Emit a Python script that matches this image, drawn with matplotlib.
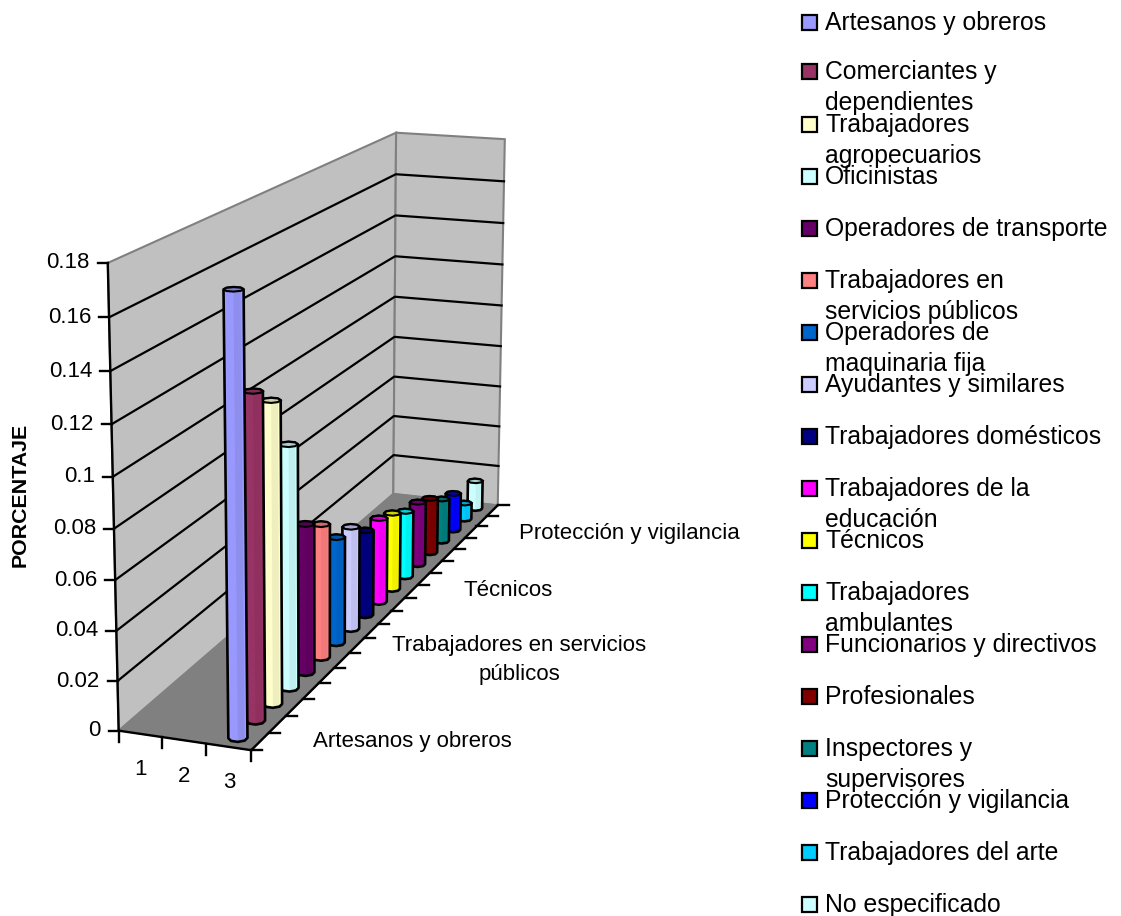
"""3-D style cylinder chart of occupations, drawn on a flat pixel axes with a fitted projection."""
import matplotlib
matplotlib.use("Agg")
import matplotlib.pyplot as plt
import numpy as np
from matplotlib.colors import to_rgb
from matplotlib.patches import Polygon, Rectangle

plt.rcParams["font.family"] = ["Liberation Sans", "DejaVu Sans"]

CATEGORIES = [
    "Artesanos y obreros", "Comerciantes y\ndependientes", "Trabajadores\nagropecuarios",
    "Oficinistas", "Operadores de transporte", "Trabajadores en\nservicios públicos",
    "Operadores de\nmaquinaria fija", "Ayudantes y similares", "Trabajadores domésticos",
    "Trabajadores de la\neducación", "Técnicos", "Trabajadores\nambulantes",
    "Funcionarios y directivos", "Profesionales", "Inspectores y\nsupervisores",
    "Protección y vigilancia", "Trabajadores del arte", "No especificado",
]
VALUES = [0.172, 0.130, 0.122, 0.100, 0.0625, 0.057, 0.046, 0.045, 0.038,
          0.038, 0.035, 0.0305, 0.0295, 0.026, 0.0205, 0.018, 0.008, 0.014]
COLORS = ["#9999FF", "#993366", "#FFFFCC", "#CCFFFF", "#660066", "#FF8080",
          "#0066CC", "#CCCCFF", "#000080", "#FF00FF", "#FFFF00", "#00FFFF",
          "#800080", "#800000", "#008080", "#0000FF", "#00CCFF", "#CCFFFF"]
Y_TICKS = [0, 0.02, 0.04, 0.06, 0.08, 0.1, 0.12, 0.14, 0.16, 0.18]
SERIES_LABELS = ["1", "2", "3"]
AXIS_LABELS = ["Artesanos y obreros", "Trabajadores en servicios\npúblicos",
               "Técnicos", "Protección y vigilancia"]

Y_MAX = 0.18
N_SERIES = 3
W, H = 1121, 916

# box corners: (series 0..1, category 0..1, value 0..1) -> pixel
CORNERS = [
    ((0, 0, 0), (119, 731)), ((1, 0, 0), (251, 750)),
    ((1, 1, 0), (498, 505)), ((0, 1, 0), (393, 494)),
    ((0, 0, 1), (108, 262)), ((1, 0, 1), (247, 275)),
    ((1, 1, 1), (505, 139)), ((0, 1, 1), (396, 133)),
]


def _fit_projection(corners):
    rows = []
    for (a, b, c), (x, y) in corners:
        rows.append([a, b, c, 1, 0, 0, 0, 0, -x * a, -x * b, -x * c, -x])
        rows.append([0, 0, 0, 0, a, b, c, 1, -y * a, -y * b, -y * c, -y])
    return np.linalg.svd(np.array(rows, float))[2][-1].reshape(3, 4)


P = _fit_projection(CORNERS)


def proj(s, c, v):
    """Pixel position of series fraction s, category fraction c, value v."""
    p = P @ np.array([s, c, v / Y_MAX, 1.0])
    return p[0] / p[2], p[1] / p[2]


def _hull(pts):
    pts = sorted(set(map(tuple, pts)))

    def half(seq):
        out = []
        for q in seq:
            while len(out) > 1 and ((out[-1][0] - out[-2][0]) * (q[1] - out[-2][1])
                                    - (out[-1][1] - out[-2][1]) * (q[0] - out[-2][0])) <= 0:
                out.pop()
            out.append(q)
        return out[:-1]

    return half(pts) + half(pts[::-1])


def _shade(color, f):
    return tuple(min(1.0, ch * f) for ch in to_rgb(color))


def draw_cylinder(ax, i, value, color):
    s0 = 2.5 / N_SERIES
    c0 = (i + 0.5) / len(VALUES)
    ang = np.linspace(0, 2 * np.pi, 9)[:-1] + np.pi / 8
    ss = s0 + 0.066 * np.cos(ang)
    cc = c0 + 0.0115 * np.sin(ang)
    bottom = [proj(a, b, 0) for a, b in zip(ss, cc)]
    top = [proj(a, b, value) for a, b in zip(ss, cc)]

    outline = _hull(bottom + top)
    ax.add_patch(Polygon(outline, closed=True, fc=color, ec="none", zorder=5))
    # vertical strips for the round look
    order = np.argsort([p[0] for p in bottom])
    front = [k for k in order if np.sin(ang[k]) <= 0.01]
    for a, b in zip(front[:-1], front[1:]):
        f = 1.02 - 0.16 * (bottom[a][0] - min(p[0] for p in bottom)) / 17
        ax.add_patch(Polygon([bottom[a], bottom[b], top[b], top[a]], closed=True,
                             fc=_shade(color, f), ec="none", zorder=5))
    ax.add_patch(Polygon(outline, closed=True, fc="none", ec="black", lw=1.9,
                         joinstyle="round", zorder=5))
    ax.add_patch(Polygon(top, closed=True, fc=_shade(color, 0.82), ec="black", lw=1.5,
                         zorder=5))


fig = plt.figure(figsize=(W / 100, H / 100), dpi=100)
ax = fig.add_axes([0, 0, 1, 1])
ax.set_xlim(0, W)
ax.set_ylim(H, 0)
ax.axis("off")

# walls and floor
ax.add_patch(Polygon([proj(0, 0, 0), proj(0, 1, 0), proj(0, 1, Y_MAX), proj(0, 0, Y_MAX)],
                     fc="#C0C0C0", ec="#808080", lw=1.5, zorder=1))
ax.add_patch(Polygon([proj(0, 1, 0), proj(1, 1, 0), proj(1, 1, Y_MAX), proj(0, 1, Y_MAX)],
                     fc="#C0C0C0", ec="#808080", lw=1.5, zorder=1))
ax.add_patch(Polygon([proj(0, 0, 0), proj(1, 0, 0), proj(1, 1, 0), proj(0, 1, 0)],
                     fc="#808080", ec="#808080", lw=1, zorder=2))

# gridlines
for t in Y_TICKS[1:-1]:
    pts = [proj(0, 0, t), proj(0, 1, t), proj(1, 1, t)]
    ax.plot(*zip(*pts), color="black", lw=1.6, zorder=3)

# value axis
ax.plot(*zip(proj(0, 0, 0), proj(0, 0, Y_MAX)), color="black", lw=1.7, zorder=4)
for t in Y_TICKS:
    x, y = proj(0, 0, t)
    ax.plot([x - 10, x], [y, y], color="black", lw=1.7, zorder=4)
    ax.text(x - 18, y, f"{t:g}", ha="right", va="center", fontsize=16)

# series axis
ax.plot(*zip(proj(0, 0, 0), proj(1, 0, 0)), color="black", lw=1.7, zorder=4)
for k in range(N_SERIES + 1):
    x, y = proj(k / N_SERIES, 0, 0)
    ax.plot([x, x], [y, y + 11], color="black", lw=1.7, zorder=4)
for k, lab in enumerate(SERIES_LABELS):
    x, y = proj((k + 0.5) / N_SERIES, 0, 0)
    ax.text(x, y + 36, lab, ha="center", va="center", fontsize=16)

# category axis
n_cat = len(VALUES)
ax.plot(*zip(proj(1, 0, 0), proj(1, 1, 0)), color="black", lw=1.7, zorder=4)
for k in range(n_cat + 1):
    x, y = proj(1, k / n_cat, 0)
    ax.plot([x, x + 11], [y, y], color="black", lw=1.7, zorder=4)

for i in range(n_cat - 1, -1, -1):
    draw_cylinder(ax, i, VALUES[i], COLORS[i])

for lab, x, y in zip(AXIS_LABELS, [412, 519, 508, 629], [742, 660, 590, 533]):
    ax.text(x, y, lab, ha="center", va="center", fontsize=16, linespacing=1.5)

# axis title
ax.text(20, 567, "PORCENTAJE", rotation=90, ha="center", va="bottom",
        fontsize=15.4, fontweight="bold")

# legend
for i, lab in enumerate(CATEGORIES):
    if i == 0:
        y = 22
    elif i == 1:
        y = 71
    else:
        y = 124 + 52 * (i - 2)
    ax.add_patch(Rectangle((802, y - 7), 15, 15, fc=COLORS[i], ec="black", lw=1.6, zorder=5))
    for j, line in enumerate(lab.split("\n")):
        ax.text(825, y + 1 + 31 * j, line, ha="left", va="center", fontsize=17.8)

fig.savefig("out.png", dpi=100)
